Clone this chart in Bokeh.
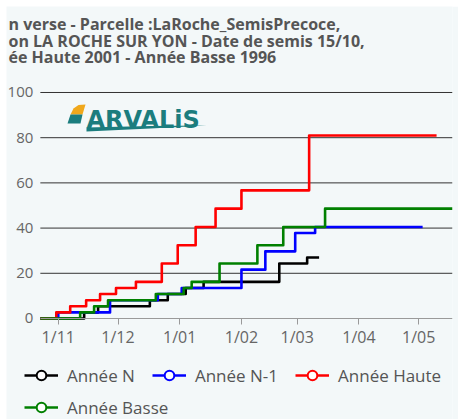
import pandas as pd
from bokeh.plotting import figure
from bokeh.models import (Range1d, FixedTicker, Legend, LegendItem,
                          ColumnDataSource, Label, PolyAnnotation)
from bokeh.embed import file_html
from bokeh.resources import INLINE

# ---------------- data ----------------
title_lines = ["n verse - Parcelle :LaRoche_SemisPrecoce,",
               "on LA ROCHE SUR YON - Date de semis 15/10,",
               "ée Haute 2001 - Année Basse 1996"]

series_names = ["Année N", "Année N-1", "Année Haute", "Année Basse"]
series_colors = ["#000000", "#0000ff", "#ff0000", "#008000"]

n_dates = ["2022-10-23", "2022-11-14", "2022-11-21", "2022-12-17", "2022-12-26",
           "2023-01-04", "2023-01-13", "2023-02-20", "2023-03-06", "2023-03-12"]
n_vals = [0, 2.7, 5.4, 8.1, 10.8, 13.5, 16.2, 24.3, 27.0, 27.0]

n1_dates = ["2022-10-23", "2022-11-01", "2022-11-27", "2022-12-21", "2023-01-02",
            "2023-02-01", "2023-02-13", "2023-02-28", "2023-03-10", "2023-05-03"]
n1_vals = [0, 2.7, 8.1, 10.8, 13.5, 21.6, 29.7, 37.8, 40.5, 40.5]

haute_dates = ["2022-10-23", "2022-10-31", "2022-11-07", "2022-11-15", "2022-11-22",
               "2022-11-30", "2022-12-10", "2022-12-23", "2022-12-31", "2023-01-09",
               "2023-01-19", "2023-02-01", "2023-03-07", "2023-05-10"]
haute_vals = [0, 2.7, 5.4, 8.1, 10.8, 13.5, 16.2, 24.3, 32.4, 40.5, 48.6, 56.7, 81.0, 81.0]

basse_dates = ["2022-10-23", "2022-11-12", "2022-11-19", "2022-11-26", "2022-12-20",
               "2023-01-03", "2023-01-07", "2023-01-21", "2023-02-09", "2023-02-22",
               "2023-03-15", "2023-05-18"]
basse_vals = [0, 2.7, 5.4, 8.1, 10.8, 13.5, 16.2, 24.3, 32.4, 40.5, 48.6, 48.6]

month_ticks = ["2022-11-01", "2022-12-01", "2023-01-01", "2023-02-01",
               "2023-03-01", "2023-04-01", "2023-05-01"]
month_labels = ["1/11", "1/12", "1/01", "1/02", "1/03", "1/04", "1/05"]

y_ticks = [0, 20, 40, 60, 80, 100]
y_labels = ["0", "20", "40", "60", "80", "100"]

logo_text = "ARVALiS"

# ---------------- figure ----------------
bg = "#f3f8f9"
all_dates = pd.to_datetime(n_dates + n1_dates + haute_dates + basse_dates)
d0, d1 = all_dates.min(), all_dates.max()
x_pad = pd.Timedelta(days=17)          # room left of the series for y labels / legend

p = figure(width=452, height=413, x_axis_type="datetime",
           x_range=Range1d(d0 - x_pad, d1),
           y_range=Range1d(-44.7, 138.05),
           output_backend="svg", toolbar_location=None,
           min_border_left=0, min_border_right=6, min_border_top=0,
           min_border_bottom=0,
           background_fill_color=bg, border_fill_color=bg,
           outline_line_color=None)
p.margin = (6, 0, 0, 6)
p.xgrid.visible = False
p.ygrid.visible = False

d0_ms = int(d0.value // 10**6)
d1_ms = int(d1.value // 10**6)

# title lines (left part hidden as in the original crop)
for line, ypos in zip(title_lines, [395.5, 379, 362.5]):
    p.add_layout(Label(x=2, y=ypos, x_units="screen", y_units="screen", text=line,
                       text_font="Open Sans", text_font_size="16px",
                       text_font_style="bold", text_color="#555555",
                       text_baseline="alphabetic", text_align="left"))

# y axis (drawn at the start of the series)
p.yaxis.fixed_location = d0_ms
p.yaxis.ticker = FixedTicker(ticks=y_ticks)
p.yaxis.major_label_overrides = dict(zip(y_ticks, y_labels))
p.yaxis.axis_line_color = None
p.yaxis.major_tick_line_color = None
p.yaxis.minor_tick_line_color = None
p.yaxis.major_tick_in = 0
p.yaxis.major_tick_out = 0
p.yaxis.major_label_standoff = 7
p.yaxis.major_label_text_color = "#666666"
p.yaxis.major_label_text_font = "Open Sans"
p.yaxis.major_label_text_font_size = "15px"

# x axis (drawn at y = 0)
tick_ms = [int(v) for v in (pd.to_datetime(month_ticks).astype("int64") // 10**6)]
p.xaxis.fixed_location = 0
p.xaxis.bounds = (d0_ms, d1_ms)
p.xaxis.ticker = FixedTicker(ticks=tick_ms)
p.xaxis.major_label_overrides = dict(zip(tick_ms, month_labels))
p.xaxis.minor_tick_line_color = None
p.xaxis.major_tick_in = 0
p.xaxis.major_tick_out = 6
p.xaxis.axis_line_color = "#9a9a9a"
p.xaxis.major_tick_line_color = "#9a9a9a"
p.xaxis.major_label_text_color = "#666666"
p.xaxis.major_label_text_font = "Open Sans"
p.xaxis.major_label_text_font_size = "16px"
p.xaxis.major_label_standoff = 2

# horizontal grid lines, spanning the series' date extent
gy = y_ticks[1:]
p.segment(x0=[d0] * len(gy), x1=[d1] * len(gy), y0=gy, y1=gy,
          line_color="#333333", line_width=1)

# logo
p.add_layout(PolyAnnotation(xs=[64, 67, 72, 79, 76], ys=[305, 311, 314.5, 315, 305],
                            xs_units="screen", ys_units="screen",
                            fill_color="#f0a81c", fill_alpha=1, line_color=None))
p.add_layout(PolyAnnotation(xs=[61, 64, 76, 74], ys=[296, 305, 305, 296],
                            xs_units="screen", ys_units="screen",
                            fill_color="#1b7d7e", fill_alpha=1, line_color=None))
p.add_layout(PolyAnnotation(xs=[80, 144, 200, 144, 80], ys=[288, 291, 294, 293.5, 292],
                            xs_units="screen", ys_units="screen",
                            fill_color="#1b7d7e", fill_alpha=1, line_color=None))
p.add_layout(Label(x=80, y=300, x_units="screen", y_units="screen", text=logo_text,
                   text_font="DejaVu Sans", text_font_style="bold",
                   text_font_size="24px", text_color="#1b7d7e",
                   text_baseline="alphabetic"))

# series
all_series = [(n_dates, n_vals), (n1_dates, n1_vals),
              (haute_dates, haute_vals), (basse_dates, basse_vals)]
items = []
for name, color, (d, v) in zip(series_names, series_colors, all_series):
    src = ColumnDataSource(dict(x=pd.to_datetime(d), y=v))
    r = p.step("x", "y", source=src, mode="after", line_color=color,
               line_width=2.6, line_join="round")
    # markers only show in the legend (size 0 on the plot)
    m = p.scatter("x", "y", source=src, marker="circle", size=0, fill_color="white",
                  line_color=color, line_width=2)
    items.append(LegendItem(label=name, renderers=[r, m]))

common = dict(orientation="horizontal", glyph_width=34, glyph_height=24,
              label_height=24, label_standoff=9, spacing=17, padding=0, margin=0,
              border_line_color=None, background_fill_alpha=0,
              label_text_font="Open Sans", label_text_font_size="17px",
              label_text_color="#555555")
p.add_layout(Legend(items=items[:3], location=(18, 32), **common))
p.add_layout(Legend(items=items[3:], location=(18, 0), **common))

open("out.html", "w").write(file_html(p, INLINE))
